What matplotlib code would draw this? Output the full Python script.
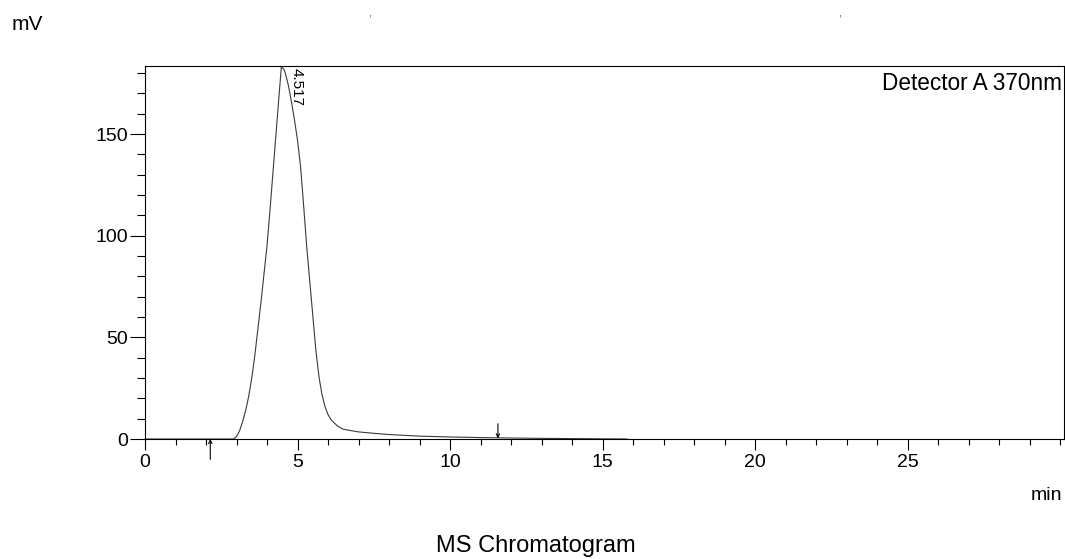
import matplotlib
matplotlib.use("Agg")
import matplotlib.pyplot as plt
from matplotlib.ticker import MultipleLocator

plt.rcParams['font.family'] = ['Liberation Sans', 'DejaVu Sans']

# signal (min, mV)
time = [0.0, 2.9, 3.0, 3.1, 3.2, 3.3, 3.4, 3.5, 3.6, 3.7, 3.8, 3.9, 4.0,
        4.1, 4.2, 4.3, 4.4, 4.47, 4.55, 4.6, 4.7, 4.8, 4.9, 5.0, 5.1, 5.2, 5.3,
        5.4, 5.5, 5.6, 5.7, 5.8, 5.9, 6.0, 6.1, 6.2, 6.3, 6.5, 7.0, 7.5,
        8.0, 9.0, 10.0, 11.0, 12.0, 13.0, 14.0, 15.8]
signal = [0.0, 0.0, 1.2, 4, 8.5, 14, 21, 30, 41, 54, 67, 81, 95,
          113, 132, 151, 170, 183, 182, 180, 174, 166, 157, 147, 134, 115, 95,
          78, 61, 44, 31, 22, 16, 12, 9.5, 8, 6.5, 4.8, 3.5, 2.8,
          2.2, 1.4, 1.0, 0.7, 0.5, 0.3, 0.2, 0.0]

peak_rt = 4.517
peak_label = "4.517"
start_mark = 2.14
stop_mark = 11.57

fig = plt.figure(figsize=(10.65, 5.59), dpi=100)
ax = fig.add_axes([145/1065, 120/559, 919/1065, 373/559])

ax.plot(time, signal, color="#3a3a3a", lw=0.8)

ax.set_xlim(0, 30.13)
ax.set_ylim(0, 183.5)
ax.xaxis.set_major_locator(MultipleLocator(5))
ax.xaxis.set_minor_locator(MultipleLocator(1))
ax.yaxis.set_major_locator(MultipleLocator(50))
ax.yaxis.set_minor_locator(MultipleLocator(10))
ax.set_xticks([0, 5, 10, 15, 20, 25])
ax.tick_params(axis='x', which='major', length=8, width=0.8, labelsize=14, direction='out', pad=3)
ax.tick_params(axis='x', which='minor', length=4, width=0.8, direction='out')
ax.tick_params(axis='y', which='major', length=11, width=0.8, labelsize=14, direction='out', pad=1)
ax.tick_params(axis='y', which='minor', length=5.5, width=0.8, direction='out')
for s in ax.spines.values():
    s.set_linewidth(0.8)

# peak label
ax.text(peak_rt + 0.45, 182.5, peak_label, rotation=270, ha='center', va='top', fontsize=11)
ax.text(0.998, 0.985, "Detector A 370nm", transform=ax.transAxes, ha='right', va='top', fontsize=16.3)

# integration marks
ax.annotate('', xy=(start_mark, 0), xytext=(start_mark, -10),
            arrowprops=dict(arrowstyle='->', lw=0.8, color='k', mutation_scale=6,
                            shrinkA=0, shrinkB=0),
            annotation_clip=False)
ax.annotate('', xy=(stop_mark, 0.3), xytext=(stop_mark, 7.5),
            arrowprops=dict(arrowstyle='->', lw=0.8, color='k', mutation_scale=6,
                            shrinkA=0, shrinkB=0),
            annotation_clip=False)

fig.text(12/1065, 1 - 25/559, "mV", fontsize=15, va='center', ha='left')
fig.text(370/1065, 1 - 14/559, ",", fontsize=8, ha='center', va='center', color='#555555')
fig.text(840/1065, 1 - 14/559, ",", fontsize=8, ha='center', va='center', color='#555555')
fig.text(1062/1065, 1 - 496/559, "min", fontsize=14, ha='right', va='center')
fig.text(536/1065, 1 - 546/559, "MS Chromatogram", fontsize=17, ha='center', va='center')

fig.savefig("out.png", dpi=100)
